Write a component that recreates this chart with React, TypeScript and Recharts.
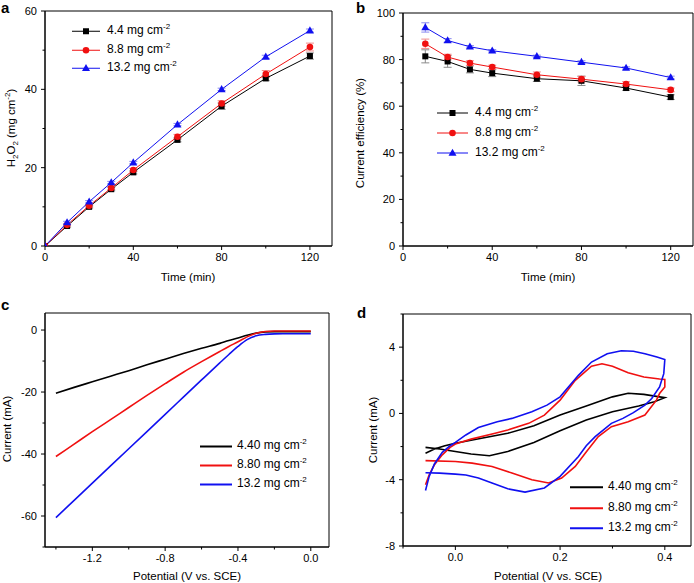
import React from 'react';
import { LineChart, Line, XAxis, YAxis, ReferenceArea, Legend, ErrorBar } from 'recharts';

const FONT = '"Liberation Sans", Arial, Helvetica, sans-serif';
const COLORS = ['#000000', '#f01010', '#1010f0'];
const ERR_COLORS = ['#8a8a8a', '#f08a8a', '#8a8af0'];

// ---------- Panel a: H2O2 vs time ----------
const timeA = [0, 10, 20, 30, 40, 60, 80, 100, 120];
const h2o2Low = [0, 5.1, 10.0, 14.5, 18.8, 27.1, 35.7, 42.8, 48.5];
const h2o2Mid = [0, 5.4, 10.3, 14.8, 19.4, 27.9, 36.4, 43.9, 50.8];
const h2o2High = [0, 6.0, 11.3, 16.2, 21.3, 31.0, 40.0, 48.3, 55.0];
const h2o2LowErr = [0, 0.3, 0.3, 0.4, 0.4, 0.5, 0.8, 0.6, 0.8];
const h2o2MidErr = [0, 0.3, 0.3, 0.4, 0.4, 0.6, 0.7, 0.9, 1.0];
const h2o2HighErr = [0, 0.3, 0.3, 0.3, 0.3, 0.3, 0.3, 0.4, 0.4];

// ---------- Panel b: current efficiency vs time ----------
const timeB = [10, 20, 30, 40, 60, 80, 100, 120];
const effLow = [81.4, 79.2, 75.8, 74.2, 71.8, 70.9, 67.8, 63.9];
const effMid = [86.8, 81.1, 78.5, 76.8, 73.5, 71.6, 69.5, 67.0];
const effHigh = [93.8, 88.2, 85.5, 83.8, 81.4, 78.9, 76.4, 72.3];
const effLowErr = [2.8, 2.5, 1.5, 1.5, 1.2, 2.0, 1.0, 1.0];
const effMidErr = [2.0, 1.2, 1.0, 0.8, 1.2, 1.2, 1.0, 0.8];
const effHighErr = [2.0, 0.8, 0.5, 0.5, 0.5, 0.6, 0.5, 0.6];

// ---------- Panel c: LSV ----------
const potC = [-1.4, -1.3, -1.2, -1.1, -1.0, -0.9, -0.8, -0.7, -0.6, -0.5, -0.45, -0.4, -0.35, -0.3, -0.25, -0.2, -0.1, 0.0];
const lsvLow = [-20.4, -18.5, -16.7, -14.9, -13.1, -11.2, -9.4, -7.6, -5.9, -4.3, -3.4, -2.6, -1.7, -1.0, -0.6, -0.5, -0.5, -0.5];
const lsvMid = [-40.8, -36.8, -32.8, -28.9, -25.0, -21.1, -17.3, -13.6, -10.2, -6.9, -5.3, -3.8, -2.2, -1.0, -0.45, -0.3, -0.3, -0.3];
const lsvHigh = [-60.5, -54.95, -49.4, -43.85, -38.3, -32.75, -27.2, -21.65, -16.1, -10.6, -7.9, -5.3, -3.1, -1.85, -1.4, -1.25, -1.2, -1.2];

// ---------- Panel d: CV loops [potential, current] ----------
const cvLow: [number, number][] = [
  [-0.057, -2.4], [-0.04, -2.15], [-0.02, -1.95], [0.0, -1.8], [0.05, -1.5], [0.1, -1.2], [0.15, -0.75],
  [0.2, -0.1], [0.25, 0.45], [0.3, 1.0], [0.33, 1.22], [0.36, 1.15], [0.39, 1.0], [0.4, 0.95],
  [0.38, 0.7], [0.35, 0.45], [0.3, 0.1], [0.25, -0.4], [0.2, -1.05], [0.15, -1.75], [0.1, -2.3],
  [0.065, -2.55], [0.03, -2.45], [0.0, -2.3], [-0.03, -2.15], [-0.057, -2.05],
];
const cvMid: [number, number][] = [
  [-0.057, -4.3], [-0.05, -3.7], [-0.04, -3.1], [-0.025, -2.5], [-0.01, -2.05], [0.0, -1.85], [0.03, -1.55],
  [0.076, -1.2], [0.1, -1.0], [0.14, -0.6], [0.17, -0.1], [0.2, 0.8], [0.229, 2.0], [0.26, 2.85], [0.28, 3.0],
  [0.3, 2.85], [0.33, 2.45], [0.36, 2.2], [0.39, 2.08], [0.4, 2.05], [0.4, 1.6], [0.39, 1.2], [0.384, 0.8],
  [0.362, -0.1], [0.33, -0.5], [0.298, -0.8], [0.273, -1.4], [0.248, -2.4], [0.229, -3.2], [0.203, -3.9],
  [0.178, -4.2], [0.146, -4.0], [0.108, -3.6], [0.07, -3.2], [0.032, -3.0], [0.0, -2.9], [-0.057, -2.85],
];
const cvHigh: [number, number][] = [
  [-0.057, -4.65], [-0.05, -3.8], [-0.04, -3.05], [-0.025, -2.35], [-0.01, -1.95], [0.0, -1.75], [0.02, -1.3],
  [0.044, -0.85], [0.08, -0.5], [0.108, -0.3], [0.146, 0.1], [0.175, 0.5], [0.2, 1.0], [0.235, 2.3], [0.26, 3.1],
  [0.29, 3.6], [0.317, 3.78], [0.34, 3.75], [0.362, 3.6], [0.385, 3.4], [0.4, 3.25], [0.398, 2.4], [0.39, 1.6],
  [0.375, 0.9], [0.362, 0.5], [0.34, 0.05], [0.32, -0.3], [0.298, -0.6], [0.267, -1.4], [0.25, -1.95],
  [0.235, -2.6], [0.2, -3.8], [0.17, -4.5], [0.133, -4.75], [0.1, -4.55], [0.07, -4.2], [0.044, -3.9],
  [0.02, -3.72], [0.0, -3.66], [-0.03, -3.6], [-0.057, -3.58],
];

// ---------- ticks & labels ----------
const xTicksTime = [0, 20, 40, 60, 80, 100, 120];
const xMajorTime = [0, 40, 80, 120];
const yTicksA = [0, 10, 20, 30, 40, 50, 60];
const yMajorA = [0, 20, 40, 60];
const yTicksB = [0, 10, 20, 30, 40, 50, 60, 70, 80, 90, 100];
const yMajorB = [0, 20, 40, 60, 80, 100];
const xTicksC = [-1.4, -1.2, -1.0, -0.8, -0.6, -0.4, -0.2, 0.0];
const xMajorC = [-1.2, -0.8, -0.4, 0.0];
const yTicksC = [-70, -60, -50, -40, -30, -20, -10, 0];
const yMajorC = [-60, -40, -20, 0];
const xTicksD = [-0.1, 0.0, 0.1, 0.2, 0.3, 0.4];
const xMajorD = [0.0, 0.2, 0.4];
const yTicksD = [-8, -6, -4, -2, 0, 2, 4, 6];
const yMajorD = [-8, -4, 0, 4];
const legendAB = ['4.4', '8.8', '13.2'];
const legendCD = ['4.40', '8.80', '13.2'];

const aData = timeA.map((t, i) => ({
  t, s0: h2o2Low[i], s1: h2o2Mid[i], s2: h2o2High[i],
  e0: h2o2LowErr[i], e1: h2o2MidErr[i], e2: h2o2HighErr[i],
}));
const bData = timeB.map((t, i) => ({
  t, s0: effLow[i], s1: effMid[i], s2: effHigh[i],
  e0: effLowErr[i], e1: effMidErr[i], e2: effHighErr[i],
}));
const cSeries = [lsvLow, lsvMid, lsvHigh].map((arr) => potC.map((v, i) => ({ v, i: arr[i] })));
const dSeries = [cvLow, cvMid, cvHigh].map((arr) => arr.map(([v, i]) => ({ v, i })));

const isIn = (list: number[], v: number) => list.some((m) => Math.abs(m - v) < 1e-9);

const makeXTick = (majors: number[], fmt: (v: number) => string) => (props: any) => {
  const { x, y, payload } = props;
  const v = payload.value;
  const major = isIn(majors, v);
  return (
    <g>
      <line x1={x} y1={y} x2={x} y2={y + (major ? 4 : 2.5)} stroke="#000" strokeWidth={1} />
      {major && (
        <text x={x} y={y + 15} textAnchor="middle" fontSize={11} fontFamily={FONT} fill="#000">
          {fmt(v)}
        </text>
      )}
    </g>
  );
};

const makeYTick = (majors: number[], fmt: (v: number) => string) => (props: any) => {
  const { x, y, payload } = props;
  const v = payload.value;
  const major = isIn(majors, v);
  return (
    <g>
      <line x1={x - (major ? 4 : 2.5)} y1={y} x2={x} y2={y} stroke="#000" strokeWidth={1} />
      {major && (
        <text x={x - 8} y={y} dy="0.36em" textAnchor="end" fontSize={11} fontFamily={FONT} fill="#000">
          {fmt(v)}
        </text>
      )}
    </g>
  );
};

const fmtInt = (v: number) => String(Math.round(v));
const fmt1 = (v: number) => (Math.abs(v) < 1e-9 ? '0.0' : v.toFixed(1));

const Marker = ({ kind, cx, cy, color }: { kind: number; cx: number; cy: number; color: string }) => {
  if (kind === 0) return <rect x={cx - 3} y={cy - 3} width={6} height={6} fill={color} />;
  if (kind === 1) return <circle cx={cx} cy={cy} r={3.3} fill={color} />;
  return <polygon points={`${cx},${cy - 4.3} ${cx - 4},${cy + 2.8} ${cx + 4},${cy + 2.8}`} fill={color} />;
};

const dotFor = (kind: number) => (p: any) => {
  if (p.cx == null || p.cy == null) return <g key={`d${kind}-${p.index}`} />;
  return <Marker key={`d${kind}-${p.index}`} kind={kind} cx={p.cx} cy={p.cy} color={COLORS[kind]} />;
};

const Sup = ({ children }: { children: React.ReactNode }) => (
  <span style={{ fontSize: 8, position: 'relative', top: -5 }}>{children}</span>
);
const Sub = ({ children }: { children: React.ReactNode }) => (
  <span style={{ fontSize: 8, position: 'relative', top: 3 }}>{children}</span>
);

const LegendBox = ({ labels, rowH, lineW, gap, markers, lineWidth }: any) => (
  <div style={{ fontFamily: FONT, fontSize: 12, color: '#000' }}>
    {labels.map((lab: string, k: number) => (
      <div key={lab} style={{ display: 'flex', alignItems: 'center', height: rowH }}>
        <svg width={lineW} height={rowH} style={{ display: 'block' }}>
          <line x1={0} y1={rowH / 2} x2={lineW} y2={rowH / 2} stroke={COLORS[k]} strokeWidth={lineWidth} />
          {markers && <Marker kind={k} cx={lineW / 2} cy={rowH / 2} color={COLORS[k]} />}
        </svg>
        <span style={{ marginLeft: gap, whiteSpace: 'nowrap', lineHeight: '14px' }}>
          {lab} mg cm<Sup>-2</Sup>
        </span>
      </div>
    ))}
  </div>
);

const Title = ({ x, y, rotate, children }: any) => (
  <div
    style={{
      position: 'absolute', left: x, top: y, fontFamily: FONT, fontSize: 11.5, color: '#000',
      whiteSpace: 'nowrap', lineHeight: '14px',
      transform: `translate(-50%, -50%)${rotate ? ' rotate(-90deg)' : ''}`,
    }}
  >
    {children}
  </div>
);

const PanelLetter = ({ x, y, children }: any) => (
  <div style={{ position: 'absolute', left: x, top: y, fontFamily: FONT, fontWeight: 'bold', fontSize: 15, lineHeight: '16px', color: '#000' }}>
    {children}
  </div>
);

const axisLine = { stroke: '#000', strokeWidth: 1 };

export default function App() {
  return (
    <div style={{ position: 'absolute', left: 0, top: 0, width: 694, height: 583, background: '#fff', overflow: 'hidden' }}>
      {/* Panel a */}
      <div style={{ position: 'absolute', left: 0, top: 0 }}>
        <LineChart width={345} height={290} data={aData} margin={{ top: 11, right: 13, bottom: 0, left: 0 }}>
          <XAxis dataKey="t" type="number" domain={[0, 130]} ticks={xTicksTime} interval={0} allowDataOverflow
            axisLine={axisLine} tickLine={false} tickSize={0} tickMargin={0} height={44} tick={makeXTick(xMajorTime, fmtInt)} />
          <YAxis type="number" domain={[0, 60]} ticks={yTicksA} interval={0} allowDataOverflow width={45}
            axisLine={axisLine} tickLine={false} tickSize={0} tickMargin={0} tick={makeYTick(yMajorA, fmtInt)} />
          <ReferenceArea x1={0} x2={130} y1={0} y2={60} fill="none" stroke="#000" strokeWidth={1} />
          {[0, 1, 2].map((k) => (
            <Line key={k} dataKey={`s${k}`} stroke={COLORS[k]} strokeWidth={1} isAnimationActive={false} dot={dotFor(k)} activeDot={false}>
              <ErrorBar dataKey={`e${k}`} width={4} stroke={ERR_COLORS[k]} strokeWidth={1} direction="y" />
            </Line>
          ))}
          <Legend layout="vertical" align="center" verticalAlign="middle"
            wrapperStyle={{ left: 72, top: 22, width: 'auto', height: 'auto' }}
            content={() => <LegendBox labels={legendAB} rowH={18.5} lineW={28} gap={7} markers lineWidth={1} />} />
        </LineChart>
      </div>

      {/* Panel b */}
      <div style={{ position: 'absolute', left: 345, top: 0 }}>
        <LineChart width={349} height={290} data={bData} margin={{ top: 13, right: 1, bottom: 0, left: 0 }}>
          <XAxis dataKey="t" type="number" domain={[0, 130]} ticks={xTicksTime} interval={0} allowDataOverflow
            axisLine={axisLine} tickLine={false} tickSize={0} tickMargin={0} height={44} tick={makeXTick(xMajorTime, fmtInt)} />
          <YAxis type="number" domain={[0, 100]} ticks={yTicksB} interval={0} allowDataOverflow width={58}
            axisLine={axisLine} tickLine={false} tickSize={0} tickMargin={0} tick={makeYTick(yMajorB, fmtInt)} />
          <ReferenceArea x1={0} x2={130} y1={0} y2={100} fill="none" stroke="#000" strokeWidth={1} />
          {[0, 1, 2].map((k) => (
            <Line key={k} dataKey={`s${k}`} stroke={COLORS[k]} strokeWidth={1} isAnimationActive={false} dot={dotFor(k)} activeDot={false}>
              <ErrorBar dataKey={`e${k}`} width={4} stroke={ERR_COLORS[k]} strokeWidth={1} direction="y" />
            </Line>
          ))}
          <Legend layout="vertical" align="center" verticalAlign="middle"
            wrapperStyle={{ left: 92, top: 103, width: 'auto', height: 'auto' }}
            content={() => <LegendBox labels={legendAB} rowH={20} lineW={31} gap={7} markers lineWidth={1} />} />
        </LineChart>
      </div>

      {/* Panel c */}
      <div style={{ position: 'absolute', left: 0, top: 290 }}>
        <LineChart width={345} height={293} margin={{ top: 23, right: 16, bottom: 0, left: 0 }}>
          <XAxis dataKey="v" type="number" domain={[-1.46, 0.1]} ticks={xTicksC} interval={0} allowDataOverflow
            axisLine={axisLine} tickLine={false} tickSize={0} tickMargin={0} height={36} tick={makeXTick(xMajorC, fmt1)} />
          <YAxis type="number" domain={[-70, 5.5]} ticks={yTicksC} interval={0} allowDataOverflow width={45}
            axisLine={axisLine} tickLine={false} tickSize={0} tickMargin={0} tick={makeYTick(yMajorC, fmtInt)} />
          <ReferenceArea x1={-1.46} x2={0.1} y1={-70} y2={5.5} fill="none" stroke="#000" strokeWidth={1} />
          {[0, 1, 2].map((k) => (
            <Line key={k} data={cSeries[k]} dataKey="i" type="monotone" stroke={COLORS[k]} strokeWidth={1.6}
              isAnimationActive={false} dot={false} activeDot={false} />
          ))}
          <Legend layout="vertical" align="center" verticalAlign="middle"
            wrapperStyle={{ left: 200, top: 146.5, width: 'auto', height: 'auto' }}
            content={() => <LegendBox labels={legendCD} rowH={19} lineW={32} gap={5} markers={false} lineWidth={2} />} />
        </LineChart>
      </div>

      {/* Panel d */}
      <div style={{ position: 'absolute', left: 345, top: 290 }}>
        <LineChart width={349} height={293} margin={{ top: 24, right: 3, bottom: 0, left: 0 }}>
          <XAxis dataKey="v" type="number" domain={[-0.1, 0.45]} ticks={xTicksD} interval={0} allowDataOverflow
            axisLine={axisLine} tickLine={false} tickSize={0} tickMargin={0} height={37} tick={makeXTick(xMajorD, fmt1)} />
          <YAxis type="number" domain={[-8, 6]} ticks={yTicksD} interval={0} allowDataOverflow width={58}
            axisLine={axisLine} tickLine={false} tickSize={0} tickMargin={0} tick={makeYTick(yMajorD, fmtInt)} />
          <ReferenceArea x1={-0.1} x2={0.45} y1={-8} y2={6} fill="none" stroke="#000" strokeWidth={1} />
          {[0, 1, 2].map((k) => (
            <Line key={k} data={dSeries[k]} dataKey="i" type="linear" stroke={COLORS[k]} strokeWidth={1.6}
              isAnimationActive={false} dot={false} activeDot={false} />
          ))}
          <Legend layout="vertical" align="center" verticalAlign="middle"
            wrapperStyle={{ left: 225, top: 187, width: 'auto', height: 'auto' }}
            content={() => <LegendBox labels={legendCD} rowH={20.5} lineW={33} gap={5} markers={false} lineWidth={2} />} />
        </LineChart>
      </div>

      {/* Axis titles */}
      <Title x={188} y={277}>Time (min)</Title>
      <Title x={548} y={277}>Time (min)</Title>
      <Title x={187} y={576}>Potential (V vs. SCE)</Title>
      <Title x={548} y={576}>Potential (V vs. SCE)</Title>
      <Title x={12} y={128} rotate>
        H<Sub>2</Sub>O<Sub>2</Sub> (mg cm<Sup>-2</Sup>)
      </Title>
      <Title x={360} y={133} rotate>Current efficiency (%)</Title>
      <Title x={7} y={429} rotate>Current (mA)</Title>
      <Title x={373} y={430} rotate>Current (mA)</Title>

      {/* Panel letters */}
      <PanelLetter x={1} y={0}>a</PanelLetter>
      <PanelLetter x={356} y={0}>b</PanelLetter>
      <PanelLetter x={1} y={297}>c</PanelLetter>
      <PanelLetter x={357} y={305}>d</PanelLetter>
    </div>
  );
}
